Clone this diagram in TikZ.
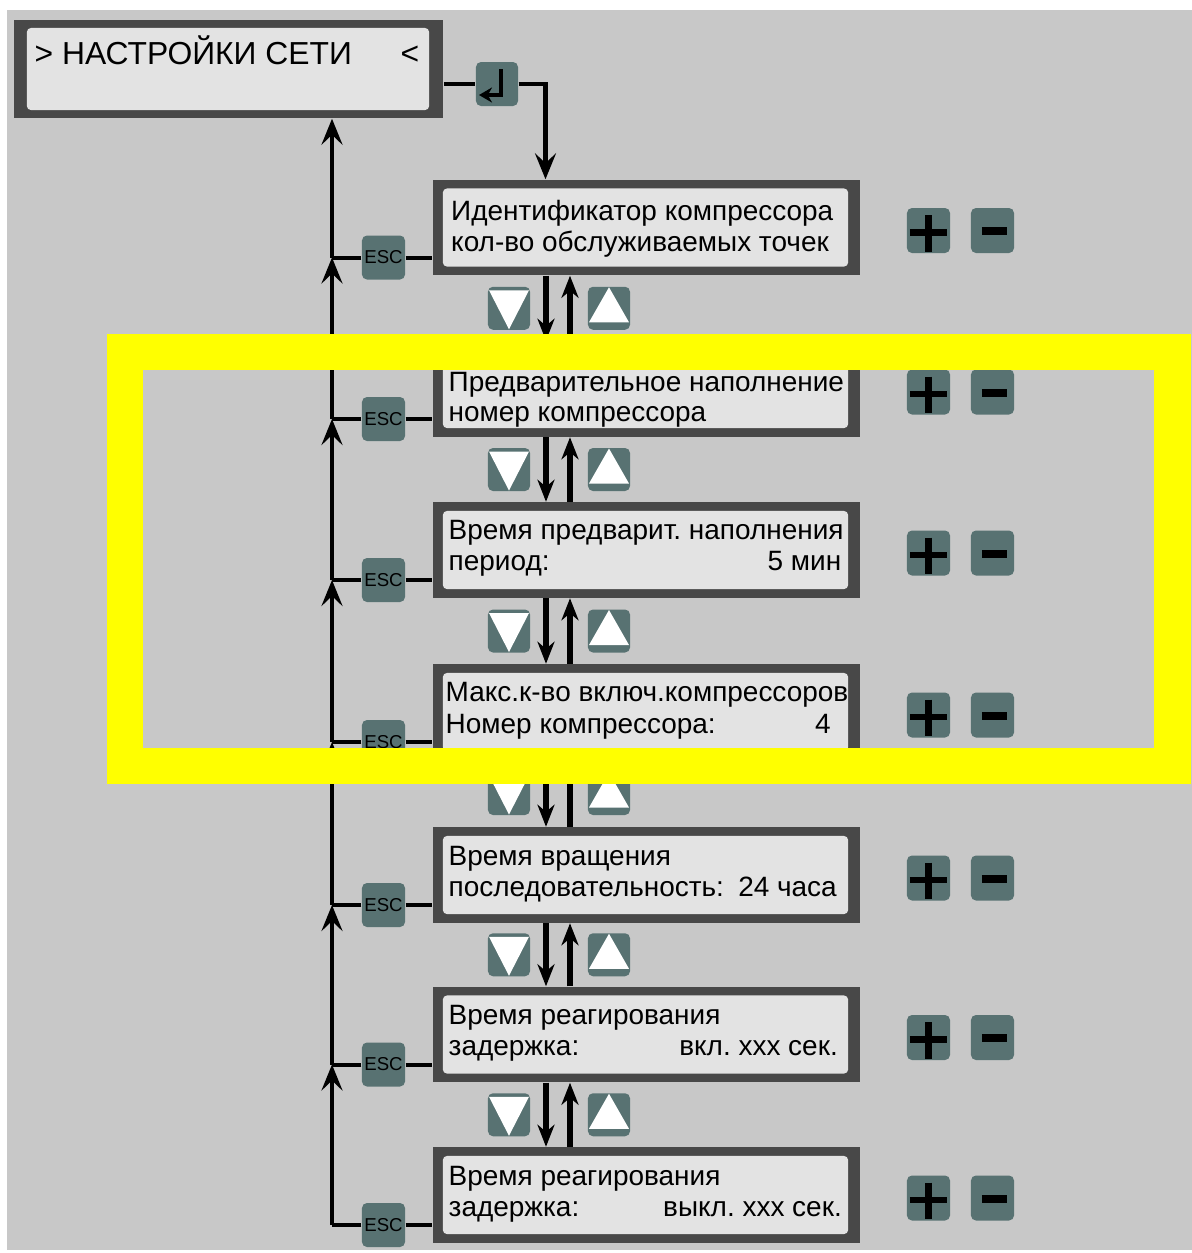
\documentclass[tikz,border=0pt]{standalone}
\usepackage{fontspec}
\setmainfont{Liberation Sans}
\usepackage{tikz}
\usetikzlibrary{calc}
\usetikzlibrary{arrows.meta}
\usetikzlibrary{positioning}
\usepackage{xcolor}
\frenchspacing

\definecolor{panelgray}{RGB}{200,200,200}
\definecolor{framedark}{RGB}{72,72,72}
\definecolor{facelight}{RGB}{227,227,227}
\definecolor{keyteal}{RGB}{88,114,114}
\definecolor{markyellow}{RGB}{255,255,0}

\tikzset{
  menuframe/.style={fill=framedark, minimum width=4.27cm, minimum height=0.95cm, inner sep=0pt},
  menuface/.style={fill=facelight, rounded corners=0.04cm, minimum width=4.05cm, minimum height=0.78cm, inner sep=0pt},
  menutext/.style={font=\fontsize{7.95}{9}\selectfont, inner sep=0pt},
  keybox/.style={fill=keyteal, rounded corners=0.05cm, minimum width=0.43cm, minimum height=0.44cm, inner sep=0pt},
  esclabel/.style={font=\fontsize{5.3}{6}\selectfont, inner sep=0pt},
  escline/.style={line width=0.04cm},
  backarrow/.style={line width=0.04cm, -{Stealth[length=0.26cm, width=0.21cm, inset=0.1cm]}},
  navarrow/.style={line width=0.065cm, -{Stealth[length=0.22cm, width=0.17cm, inset=0.07cm]}},
}

\begin{document}
\begin{tikzpicture}[x=0.01cm, y=-0.01cm]
    % 1. Page size and gray panel
    \useasboundingbox (0,0) rectangle (1192,1253);
    \fill[panelgray] (7,10) rectangle (1192,1250);

    % 2. Title display
    \node[menuframe, minimum width=4.285cm, minimum height=0.98cm] (title) at (228.75,69) {};
    \node[menuface, minimum width=4.02cm, minimum height=0.82cm] (titleface) at (228,69) {};
    \node[anchor=base west, font=\fontsize{9.05}{11}\selectfont, inner sep=0pt] (titletext) at (34,64) {> НАСТРОЙКИ СЕТИ};
    \node[anchor=base west, font=\fontsize{9.05}{11}\selectfont, inner sep=0pt] (titlemark) at (400,64) {<};

    % 3. Menu displays
    \foreach \n/\y in {1/227.5, 2/389, 3/550, 4/712, 5/875, 6/1034.5, 7/1195} {
        \node[menuframe] (m\n) at (646.5,\y) {};
        \node[menuface] (f\n) at (645.5,\y) {};
    }

    % 4. Texts of the displays
    \node[menutext, anchor=base west] (m1a) at ([shift={(-196,-7)}]m1.center) {Идентификатор компрессора};
    \node[menutext, anchor=base west] (m1b) at ([shift={(-196,24)}]m1.center) {кол-во обслуживаемых точек};

    \node[menutext, anchor=base west] (m2a) at ([shift={(-198.5,2)}]m2.center) {Предварительное наполнение};
    \node[menutext, anchor=base west] (m2b) at ([shift={(-198.5,32)}]m2.center) {номер компрессора};

    \node[menutext, anchor=base west] (m3a) at ([shift={(-198.5,-11)}]m3.center) {Время предварит. наполнения};
    \node[menutext, anchor=base west] (m3b) at ([shift={(-198.5,20)}]m3.center) {период:};
    \node[menutext, anchor=base east] (m3c) at ([shift={(195.5,20)}]m3.center) {5 мин};

    \node[menutext, anchor=base west] (m4a) at ([shift={(-201.5,-11)}]m4.center) {Макс.к-во включ.компрессоров};
    \node[menutext, anchor=base west] (m4b) at ([shift={(-201.5,21)}]m4.center) {Номер компрессора:};
    \node[menutext, anchor=base east] (m4c) at ([shift={(185,21)}]m4.center) {4};

    \node[menutext, anchor=base west] (m5a) at ([shift={(-198.5,-10)}]m5.center) {Время вращения};
    \node[menutext, anchor=base west] (m5b) at ([shift={(-198.5,21)}]m5.center) {последовательность:};
    \node[menutext, anchor=base east] (m5c) at ([shift={(191,21)}]m5.center) {24 часа};

    \node[menutext, anchor=base west] (m6a) at ([shift={(-198.5,-10)}]m6.center) {Время реагирования};
    \node[menutext, anchor=base west] (m6b) at ([shift={(-198.5,21)}]m6.center) {задержка:};
    \node[menutext, anchor=base east] (m6c) at ([shift={(192,21)}]m6.center) {вкл. xxx сек.};

    \node[menutext, anchor=base west] (m7a) at ([shift={(-198.5,-10)}]m7.center) {Время реагирования};
    \node[menutext, anchor=base west] (m7b) at ([shift={(-198.5,21)}]m7.center) {задержка:};
    \node[menutext, anchor=base east] (m7c) at ([shift={(196,21)}]m7.center) {выкл. xxx сек.};

    % 5. Enter key and the way into the first display
    \node[keybox, minimum width=0.42cm] (enter) at (497,84) {};
    \draw[line width=0.035cm, -{Stealth[length=0.13cm, width=0.15cm]}] ([shift={(4,-15)}]enter.center) -- ([shift={(4,11)}]enter.center) -- ([shift={(-18,11)}]enter.center);
    \draw[escline] (enter.west -| title.east) -- (enter.west);
    \draw[backarrow] (enter.east) -| ([shift={(-101,0)}]m1.north);

    % 6. ESC keys and the way back to the title
    \foreach \n in {1,...,7} {
        \coordinate (j\n) at ([shift={(-314.5,30)}]m\n.center);
        \node[keybox] (esc\n) at ([shift={(-263,30)}]m\n.center) {};
        \node[esclabel] (esctext\n) at (esc\n) {ESC};
        \draw[escline] (esc\n.east) -- (esc\n.east -| m\n.west);
        \draw[escline] (esc\n.west) -- (j\n);
    }
    \draw[backarrow] (j1) -- (j1 |- title.south);
    \foreach \n [evaluate=\n as \p using int(\n-1)] in {2,...,7} {
        \draw[backarrow] (j\n) -- (j\p);
    }

    % 7. Down and up keys between the displays
    \foreach \n [evaluate=\n as \q using int(\n+1)] in {1,...,6} {
        \coordinate (g\n) at ($(m\n.south)!0.5!(m\q.north)$);
        \node[keybox, minimum width=0.42cm, minimum height=0.43cm] (dn\n) at ([shift={(-137.5,0)}]g\n) {};
        \fill[white] ([shift={(-20,-18)}]dn\n.center) -- ([shift={(20,-18)}]dn\n.center) -- ([shift={(0,21)}]dn\n.center) -- cycle;
        \node[keybox, minimum width=0.42cm, minimum height=0.43cm] (up\n) at ([shift={(-37.5,0)}]g\n) {};
        \fill[white] ([shift={(-20,14)}]up\n.center) -- ([shift={(20,14)}]up\n.center) -- ([shift={(0,-21)}]up\n.center) -- cycle;
        \draw[navarrow] ([shift={(-100.5,0)}]m\n.south) -- ([shift={(-100.5,0)}]m\q.north);
        \draw[navarrow] ([shift={(-76.5,0)}]m\q.north) -- ([shift={(-76.5,0)}]m\n.south);
    }

    % 8. Plus and minus keys
    \foreach \n in {1,...,7} {
        \node[keybox, minimum height=0.45cm] (plus\n) at ([shift={(282,3)}]m\n.center) {};
        \draw[line width=0.065cm] ([shift={(-18.5,2)}]plus\n.center) -- ([shift={(18.5,2)}]plus\n.center);
        \draw[line width=0.065cm] ([shift={(0,-15.5)}]plus\n.center) -- ([shift={(0,21)}]plus\n.center);
        \node[keybox, minimum height=0.45cm] (minus\n) at ([shift={(346,3)}]m\n.center) {};
        \draw[line width=0.08cm] ([shift={(-10.5,0.5)}]minus\n.center) -- ([shift={(14.5,0.5)}]minus\n.center);
    }

    % 9. Yellow highlight frame
    \draw[markyellow, line width=0.36cm] (125,352) rectangle (1172.5,766);

\end{tikzpicture}
\end{document}
